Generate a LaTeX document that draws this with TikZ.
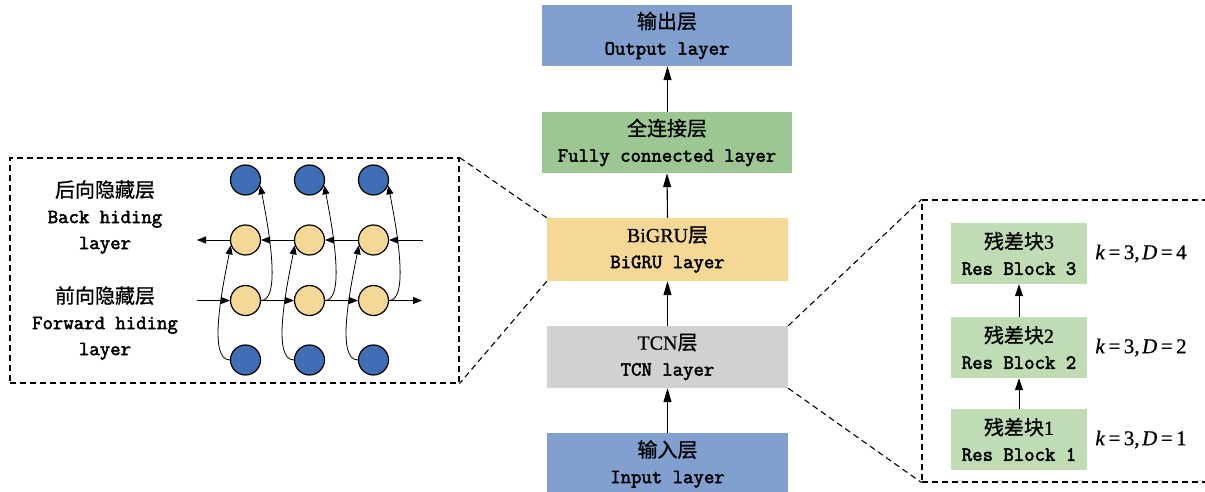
\documentclass[tikz,border=0pt]{standalone}
\usepackage{fontspec}
\setmainfont{Liberation Serif}
\newfontfamily\cjk[FakeBold=0.8]{Noto Sans CJK SC}
\newfontfamily\mono[FakeBold=2.4]{Latin Modern Mono}
\newfontfamily\serb[FakeBold=0.8]{Liberation Serif}
\usetikzlibrary{arrows.meta,positioning}
\definecolor{cblue}{HTML}{81A0D0}
\definecolor{cgreen}{HTML}{9CC792}
\definecolor{cyellow}{HTML}{F5D796}
\definecolor{cgray}{HTML}{D1D1D3}
\definecolor{cres}{HTML}{BFDCB5}
\definecolor{nblue}{HTML}{3F6EB6}
\definecolor{nyellow}{HTML}{F5D797}
\newcommand{\zh}[1]{{\cjk\fontsize{20}{26}\selectfont #1}}
\newcommand{\mn}[1]{{\mono\fontsize{20.2}{26}\selectfont #1}}
\newcommand{\lt}[1]{{\serb\fontsize{20}{26}\selectfont #1}}
\newcommand{\kd}[1]{{\serb\fontsize{21}{24}\selectfont \textit{k}\hspace{3.5pt}=\hspace{3.5pt}3,\hspace{2.5pt}\textit{D}\hspace{3.5pt}=\hspace{3.5pt}#1}}
\begin{document}
\begin{tikzpicture}[x=1pt,y=-1pt,
  layer/.style={fill=#1, draw=none, minimum height=62pt, inner sep=0pt, align=center,
    font=\fontsize{18}{26}\selectfont},
  bigarr/.style={-{Triangle[length=14pt,width=8pt]}, line width=1.1pt},
  smarr/.style={-{Triangle[length=9pt,width=7pt]}, line width=0.8pt},
  resarr/.style={-{Triangle[length=12pt,width=8pt]}, line width=1pt},
  dashbox/.style={draw, dash pattern=on 6pt off 4pt, line width=1.1pt, inner sep=0pt},
  dashln/.style={dash pattern=on 6pt off 4pt, line width=1.1pt},
  cnode/.style={circle, draw, line width=1.2pt, minimum size=30pt, inner sep=0pt, fill=#1},
  resbox/.style={fill=cres, minimum width=136pt, minimum height=61pt, inner sep=0pt, align=center,
    font=\fontsize{18}{26}\selectfont},
  klab/.style={inner sep=0pt},
  sidetxt/.style={align=center, font=\fontsize{18}{26}\selectfont, inner sep=0pt}
]
\useasboundingbox (0,0) rectangle (1205,492);
\clip (0,0) rectangle (1205,492);

% central column
\node[layer=cblue, minimum width=250pt, minimum height=61pt] (out) at (667,35.5) {\zh{输出层}\\\mn{Output layer}};
\node[layer=cgreen, minimum width=250pt, minimum height=61pt] (fc) at (667,142.5) {\zh{全连接层}\\\mn{Fully connected layer}};
\node[layer=cyellow, minimum width=241pt, minimum height=63pt] (bigru) at (667.5,249.5) {\lt{BiGRU}\zh{层}\\\mn{BiGRU layer}};
\node[layer=cgray, minimum width=241pt] (tcn) at (667.5,357) {\lt{TCN}\zh{层}\\\mn{TCN layer}};
\node[layer=cblue, minimum width=241pt] (inp) at (667.5,464) {\zh{输入层}\\\mn{Input layer}};

\draw[bigarr] (inp.north) -- (tcn.south);
\draw[bigarr] (tcn.north) -- (bigru.south);
\draw[bigarr] (bigru.north) -- (fc.south);
\draw[bigarr] ([xshift=0.5pt]fc.north) -- ([xshift=0.5pt]out.south);

% left dashed box
\node[dashbox, minimum width=449pt, minimum height=225pt] (lbox) at (234.5,270.5) {};
\draw[dashln] (bigru.north west) -- (lbox.north east);
\draw[dashln] (bigru.south west) -- (lbox.south east);

\node[sidetxt] (bt) at (105,217) {\zh{后向隐藏层}\\\mn{Back hiding}\\\mn{layer}};
\node[sidetxt] (ft) at (105,323) {\zh{前向隐藏层}\\\mn{Forward hiding}\\\mn{layer}};

% circles
\foreach \i/\x in {1/245.5,2/309.5,3/373.5}{
  \node[cnode=nblue] (top\i) at (\x,180) {};
  \node[cnode=nyellow] (bk\i) at (\x,240) {};
  \node[cnode=nyellow] (fw\i) at (\x,300.5) {};
  \node[cnode=nblue] (bot\i) at (\x,360) {};
}
\coordinate (bkin) at (423,240);
\coordinate (bkout) at (197,240);
\coordinate (fwin) at (197,300.5);
\coordinate (fwout) at (422,300.5);
\draw[smarr] (bkin) -- (bk3.east);
\draw[smarr] (bk3.west) -- (bk2.east);
\draw[smarr] (bk2.west) -- (bk1.east);
\draw[smarr] (bk1.west) -- (bkout);
\draw[smarr] (fwin) -- (fw1.west);
\draw[smarr] (fw1.east) -- (fw2.west);
\draw[smarr] (fw2.east) -- (fw3.west);
\draw[smarr] (fw3.east) -- (fwout);
\foreach \i in {1,2,3}{
  \draw[smarr] (bot\i.west) .. controls +(-22,0) and +(-9,45) .. (bk\i.200);
  \draw[smarr] (fw\i.east) .. controls +(20,0) and +(9,45) .. (top\i.-20);
}

% right dashed box
\node[dashbox, minimum width=292pt, minimum height=282pt] (rbox) at (1068,341) {};
\draw[dashln] (tcn.north east) -- (rbox.north west);
\draw[dashln] (tcn.south east) -- (rbox.south west);

\node[resbox] (r3) at (1019,253.5) {\zh{残差块}\lt{3}\\\mn{Res Block 3}};
\node[resbox] (r2) at (1019,347.5) {\zh{残差块}\lt{2}\\\mn{Res Block 2}};
\node[resbox] (r1) at (1019,439.5) {\zh{残差块}\lt{1}\\\mn{Res Block 1}};
\draw[resarr] (r1.north) -- (r2.south);
\draw[resarr] (r2.north) -- (r3.south);

\node[klab, right=8pt of r3] (k3) {\kd{4}};
\node[klab, right=8pt of r2] (k2) {\kd{2}};
\node[klab, right=8pt of r1] (k1) {\kd{1}};
\end{tikzpicture}
\end{document}
